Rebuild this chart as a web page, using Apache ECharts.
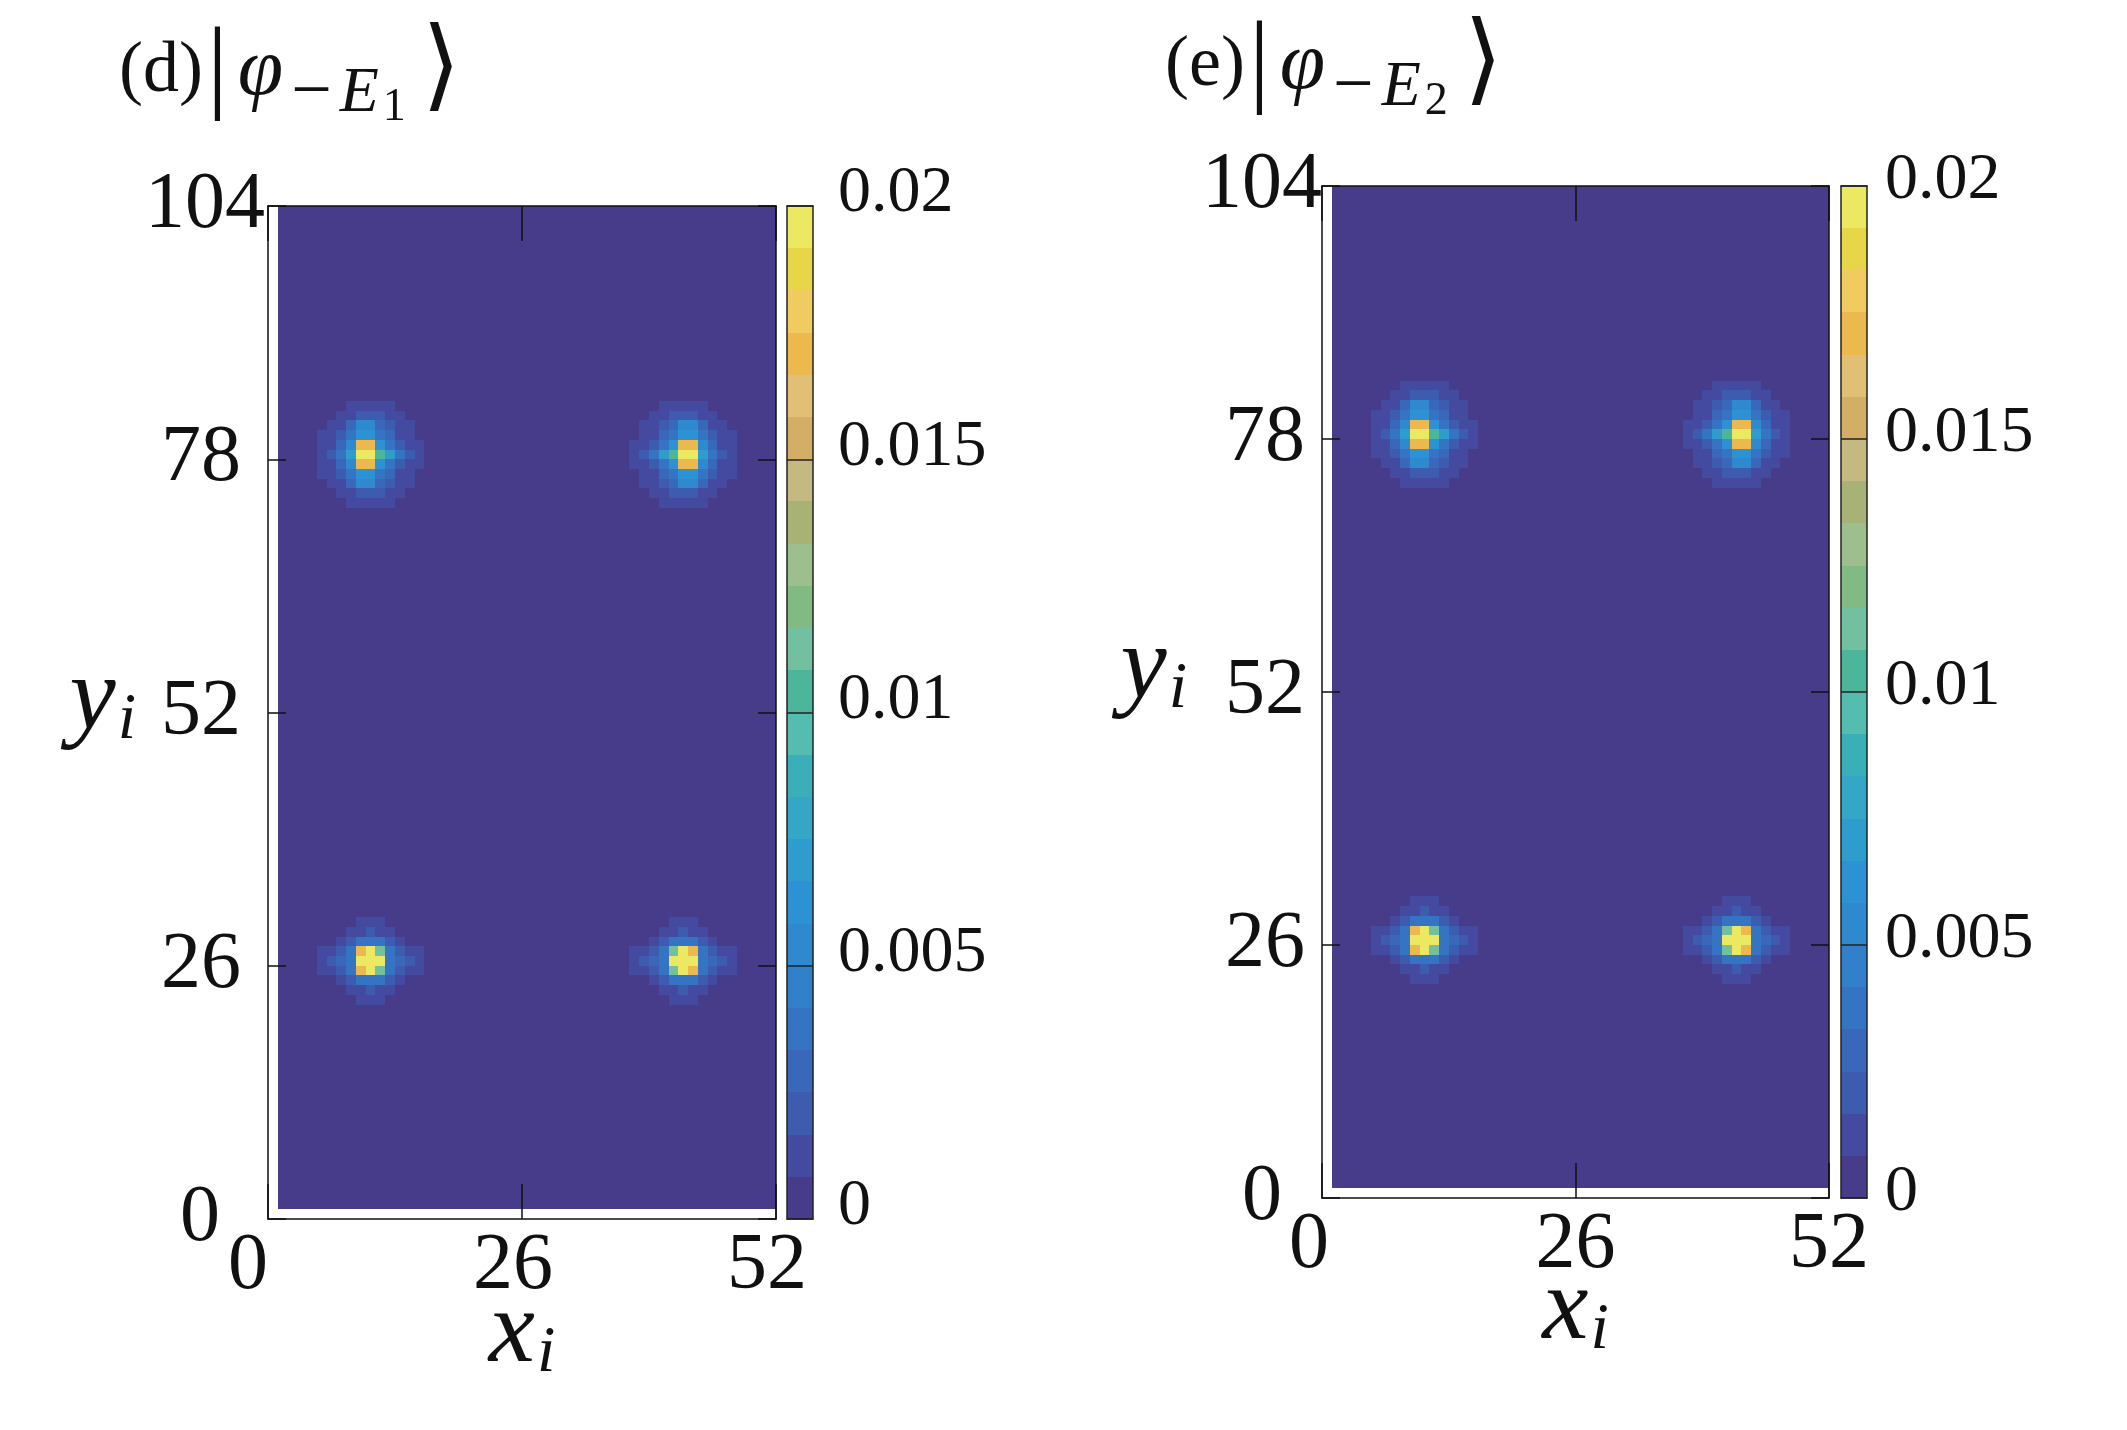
<!DOCTYPE html>
<html><head><meta charset="utf-8">
<script src="https://cdn.jsdelivr.net/npm/echarts@6/dist/echarts.min.js"></script>
<style>html,body{margin:0;padding:0;background:#fff}#c{width:2127px;height:1430px}</style>
</head><body><div id="c"></div>
<script>
// ---------------- data (values in units of 1e-3) ----------------
// grid cells: x = 1..51 (cell spans [x,x+1]), y = 1..103
const cellRangeX = [1, 51];
const cellRangeY = [1, 103];
const cbTickLabels = ['0', '0.005', '0.01', '0.015', '0.02'];

// colour bands of the colour bar (edges, 1e-3) and their colours
const bandEdges = [0, 0.833, 1.667, 2.5, 3.333, 4.167, 5, 5.833, 6.667, 7.5, 8.333, 9.167,
  10, 10.833, 11.667, 12.5, 13.333, 14.167, 15, 15.833, 16.667, 17.5, 18.333, 19.167, 20];
const palette = ['#463C89', '#444AA0', '#3D5CB0', '#3968BA', '#3574C3', '#3280CA', '#2F89CF', '#2D92D3',
  '#2E9DCE', '#34A7C6', '#3AAFB8', '#55BCB0', '#4DB599', '#72C09F', '#82BA84', '#9DBF8D',
  '#A9B275', '#C5B982', '#D3AE66', '#E1C076', '#EBB94D', '#F0CC60', '#E8D649', '#EBE962'];

// upper spots: rows y = 83..73, columns x = 4..16 (left) / 36..48 (right)
const spotUpperLeft = [
  [0, 0, 0, 0, 0.9, 1.1, 1.2, 1.1, 0.9, 0, 0, 0, 0],
  [0, 0, 0, 0.9, 1.5, 2.1, 2.1, 1.8, 1.2, 0.9, 0, 0, 0],
  [0, 0, 0.9, 1.5, 2.6, 5.2, 5.2, 3.3, 2.2, 1.2, 0.9, 0, 0],
  [0, 0.9, 1.2, 2.3, 3.8, 6.2, 6.2, 3.9, 2.7, 1.6, 1.0, 0, 0],
  [0, 0.9, 1.6, 3.0, 5.5, 17.0, 17.0, 5.9, 3.9, 2.2, 1.2, 0.9, 0],
  [0, 1.0, 2.0, 3.8, 7.1, 19.6, 19.6, 10.4, 7.4, 4.0, 2.2, 1.2, 0],
  [0, 0.9, 1.6, 3.0, 5.5, 17.0, 17.0, 5.9, 3.9, 2.2, 1.2, 0.9, 0],
  [0, 0.9, 1.2, 2.3, 3.8, 6.2, 6.2, 3.9, 2.7, 1.6, 1.0, 0, 0],
  [0, 0, 0.9, 1.5, 2.6, 5.2, 5.2, 3.3, 2.2, 1.2, 0.9, 0, 0],
  [0, 0, 0, 0.9, 1.5, 2.1, 2.1, 1.8, 1.2, 0.9, 0, 0, 0],
  [0, 0, 0, 0, 0.9, 1.1, 1.2, 1.1, 0.9, 0, 0, 0, 0]
];
const spotUpperRight = [
  [0, 0, 0, 0, 0.9, 1.1, 1.2, 1.1, 0.9, 0, 0, 0, 0],
  [0, 0, 0, 0.9, 1.2, 1.8, 2.1, 2.1, 1.5, 0.9, 0, 0, 0],
  [0, 0, 0.9, 1.2, 2.2, 3.3, 5.2, 5.2, 2.6, 1.5, 0.9, 0, 0],
  [0, 0, 1.0, 1.6, 2.7, 3.9, 6.2, 6.2, 3.8, 2.3, 1.2, 0.9, 0],
  [0, 0.9, 1.2, 2.2, 3.9, 5.9, 17.0, 17.0, 5.5, 3.0, 1.6, 0.9, 0],
  [0, 1.2, 2.2, 4.0, 7.4, 10.4, 19.6, 19.6, 7.1, 3.8, 2.0, 1.0, 0],
  [0, 0.9, 1.2, 2.2, 3.9, 5.9, 17.0, 17.0, 5.5, 3.0, 1.6, 0.9, 0],
  [0, 0, 1.0, 1.6, 2.7, 3.9, 6.2, 6.2, 3.8, 2.3, 1.2, 0.9, 0],
  [0, 0, 0.9, 1.2, 2.2, 3.3, 5.2, 5.2, 2.6, 1.5, 0.9, 0, 0],
  [0, 0, 0, 0.9, 1.2, 1.8, 2.1, 2.1, 1.5, 0.9, 0, 0, 0],
  [0, 0, 0, 0, 0.9, 1.1, 1.2, 1.1, 0.9, 0, 0, 0, 0]
];
// lower spots: rows y = 30..22
const spotLowerLeft = [
  [0, 0, 0, 0, 0, 0.9, 0.9, 0.9, 0, 0, 0, 0, 0],
  [0, 0, 0, 0, 0.9, 1.6, 1.8, 1.5, 0.9, 0, 0, 0, 0],
  [0, 0, 0, 0.9, 1.8, 3.6, 3.9, 3.4, 1.7, 0.9, 0, 0, 0],
  [0, 0.9, 1.2, 2.2, 3.6, 17.0, 19.6, 11.2, 3.8, 2.2, 1.3, 0.9, 0],
  [0, 1.1, 1.7, 2.5, 3.9, 19.6, 19.6, 19.6, 3.9, 2.6, 1.7, 1.1, 0],
  [0, 0.9, 1.2, 2.2, 3.6, 17.0, 19.6, 11.2, 3.8, 2.2, 1.3, 0.9, 0],
  [0, 0, 0, 0.9, 1.8, 3.6, 3.9, 3.4, 1.7, 0.9, 0, 0, 0],
  [0, 0, 0, 0, 0.9, 1.6, 1.8, 1.5, 0.9, 0, 0, 0, 0],
  [0, 0, 0, 0, 0, 0.9, 0.9, 0.9, 0, 0, 0, 0, 0]
];
const spotLowerRight = [
  [0, 0, 0, 0, 0, 0.9, 0.9, 0.9, 0, 0, 0, 0, 0],
  [0, 0, 0, 0, 0.9, 1.5, 1.8, 1.6, 0.9, 0, 0, 0, 0],
  [0, 0, 0, 0.9, 1.7, 3.4, 3.9, 3.6, 1.8, 0.9, 0, 0, 0],
  [0, 0.9, 1.3, 2.2, 3.8, 11.2, 19.6, 17.0, 3.6, 2.2, 1.2, 0.9, 0],
  [0, 1.1, 1.7, 2.6, 3.9, 19.6, 19.6, 19.6, 3.9, 2.5, 1.7, 1.1, 0],
  [0, 0.9, 1.3, 2.2, 3.8, 11.2, 19.6, 17.0, 3.6, 2.2, 1.2, 0.9, 0],
  [0, 0, 0, 0.9, 1.7, 3.4, 3.9, 3.6, 1.8, 0.9, 0, 0, 0],
  [0, 0, 0, 0, 0.9, 1.5, 1.8, 1.6, 0.9, 0, 0, 0, 0],
  [0, 0, 0, 0, 0, 0.9, 0.9, 0.9, 0, 0, 0, 0, 0]
];
// where each spot sits: [first column x, top row y, cells]
const spotsD = [[4, 83, spotUpperLeft], [36, 83, spotUpperRight], [4, 30, spotLowerLeft], [36, 30, spotLowerRight]];
const spotsE = [[4, 83, spotUpperLeft], [36, 83, spotUpperRight], [4, 30, spotLowerLeft], [36, 30, spotLowerRight]];

// ---------------- build series data ----------------
function buildCells(spots) {
  const m = {};
  spots.forEach(([x0, yTop, rows]) => rows.forEach((row, i) => row.forEach((v, j) => {
    m[(x0 + j) + ',' + (yTop - i)] = v;
  })));
  const out = [];
  for (let x = cellRangeX[0]; x <= cellRangeX[1]; x++)
    for (let y = cellRangeY[0]; y <= cellRangeY[1]; y++)
      out.push([x, y, (m[x + ',' + y] || 0) / 1000]);
  return out;
}
const cellsD = buildCells(spotsD);
const cellsE = buildCells(spotsE);
const cbData = bandEdges.slice(0, -1).map((lo, i) => [0, lo / 1000, lo / 1000, bandEdges[i + 1] / 1000]);

// ---------------- styling ----------------
const FONT = "'Liberation Serif','DejaVu Serif',serif";
const INK = '#111';
const chart = echarts.init(document.getElementById('c'), null, {renderer: 'canvas'});

function cellItem(params, api) {
  const x = api.value(0), y = api.value(1);
  const p0 = api.coord([x, y + 1]);
  const p1 = api.coord([x + 1, y]);
  const x0 = Math.round(p0[0]), y0 = Math.round(p0[1]);
  return {type: 'rect', shape: {x: x0, y: y0, width: Math.round(p1[0]) - x0, height: Math.round(p1[1]) - y0},
    style: {fill: api.visual('color')}};
}
function bandItem(params, api) {
  const p0 = api.coord([0, api.value(3)]);
  const p1 = api.coord([1, api.value(1)]);
  const x0 = Math.round(p0[0]), y0 = Math.round(p0[1]);
  return {type: 'rect', shape: {x: x0, y: y0, width: Math.round(p1[0]) - x0, height: Math.round(p1[1]) - y0},
    style: {fill: api.visual('color')}};
}

function tickRich(pads, size) {
  const r = {};
  Object.keys(pads).forEach(k => { r['l' + k] = {fontFamily: FONT, fontSize: size, fontWeight: 'normal', color: INK, padding: pads[k]}; });
  return r;
}
const lineSt = {color: INK, width: 1.5};

function heatAxes(g, xPads, yPads, xMargin, yMargin, xNameGap, yNameGap, yNamePadB) {
  const xs = [
    {gridIndex: g, type: 'value', min: 0, max: 52, interval: 26, position: 'bottom', z: 10,
      axisLine: {onZero: false, lineStyle: lineSt},
      axisTick: {inside: true, length: 35, lineStyle: lineSt},
      splitLine: {show: false},
      axisLabel: {margin: xMargin, formatter: v => '{l' + v + '|' + v + '}', rich: tickRich(xPads, 80)},
      name: '{v|x}{s|i}', nameLocation: 'middle', nameGap: xNameGap, nameMoveOverlap: false,
      nameTextStyle: {rich: {
        v: {fontFamily: FONT, fontStyle: 'italic', fontSize: 104, color: INK},
        s: {fontFamily: FONT, fontStyle: 'italic', fontSize: 66, color: INK, padding: [40, 0, 0, 2]}}}},
    {gridIndex: g, type: 'value', min: 0, max: 52, interval: 26, position: 'top', z: 10,
      axisLine: {onZero: false, lineStyle: lineSt},
      axisTick: {inside: true, length: 35, lineStyle: lineSt},
      splitLine: {show: false}, axisLabel: {show: false}}
  ];
  const ys = [
    {gridIndex: g, type: 'value', min: 0, max: 104, interval: 26, position: 'left', z: 10,
      axisLine: {onZero: false, lineStyle: lineSt},
      axisTick: {inside: true, length: 18, lineStyle: lineSt},
      splitLine: {show: false},
      axisLabel: {margin: yMargin, formatter: v => '{l' + v + '|' + v + '}', rich: tickRich(yPads, 80)},
      name: '{v|y}{s|i}', nameLocation: 'middle', nameRotate: 0, nameGap: yNameGap, nameMoveOverlap: false,
      nameTextStyle: {rich: {
        v: {fontFamily: FONT, fontStyle: 'italic', fontSize: 104, color: INK, padding: [0, 0, yNamePadB, 0]},
        s: {fontFamily: FONT, fontStyle: 'italic', fontSize: 66, color: INK, padding: [40, 0, yNamePadB, 2]}}}},
    {gridIndex: g, type: 'value', min: 0, max: 104, interval: 26, position: 'right', z: 10,
      axisLine: {onZero: false, lineStyle: lineSt},
      axisTick: {inside: true, length: 18, lineStyle: lineSt},
      splitLine: {show: false}, axisLabel: {show: false}}
  ];
  return {xs, ys};
}
const cbLine = {color: '#222', width: 1.5};
function cbAxes(g, labelMargin, padBottom) {
  const xs = [
    {gridIndex: g, type: 'value', min: 0, max: 1, position: 'bottom', z: 10,
      axisLine: {onZero: false, lineStyle: cbLine}, axisTick: {show: false}, axisLabel: {show: false}, splitLine: {show: false}},
    {gridIndex: g, type: 'value', min: 0, max: 1, position: 'top', z: 10,
      axisLine: {onZero: false, lineStyle: cbLine}, axisTick: {show: false}, axisLabel: {show: false}, splitLine: {show: false}}
  ];
  const ys = [
    {gridIndex: g, type: 'value', min: 0, max: 0.02, interval: 0.005, position: 'left', z: 10,
      axisLine: {onZero: false, lineStyle: cbLine}, axisTick: {show: false}, axisLabel: {show: false}, splitLine: {show: false}},
    {gridIndex: g, type: 'value', min: 0, max: 0.02, interval: 0.005, position: 'right', z: 10,
      axisLine: {onZero: false, lineStyle: cbLine},
      axisTick: {inside: true, length: 26, lineStyle: {color: '#222', width: 1.5}},
      splitLine: {show: false},
      axisLabel: {margin: labelMargin, formatter: (v, i) => '{c|' + cbTickLabels[i] + '}',
        rich: {c: {fontFamily: FONT, fontSize: 66, color: INK, padding: [0, 0, padBottom, 0]}}}}
  ];
  return {xs, ys};
}

const dAx = heatAxes(0, {'0': [0, 40, 0, 0], '26': [0, 18, 0, 0], '52': [0, 18, 0, 0]},
  {'0': [0, 45, 0, 0], '26': [0, 24, 0, 0], '52': [0, 24, 0, 0], '78': [0, 24, 0, 0], '104': [0, 0, 0, 0]},
  8, 3, 62, 132, 24);
const dCb = cbAxes(1, 25, 24);
const eAx = heatAxes(2, {'0': [0, 26, 0, 0], '26': [0, 0, 0, 0], '52': [0, 0, 0, 0]},
  {'0': [0, 40, 0, 0], '26': [0, 17, 0, 0], '52': [0, 17, 0, 0], '78': [0, 17, 0, 0], '104': [0, 0, 0, 0]},
  8, 0, 60, 135, 44);
const eCb = cbAxes(3, 18, 10);

function titleRich() {
  const base = {color: INK, fontWeight: 'normal'};
  return {
    n: Object.assign({fontFamily: FONT, fontSize: 72, lineHeight: 110}, base),
    b: Object.assign({fontFamily: FONT, fontSize: 104, lineHeight: 110, padding: [0, 2, 0, 4]}, base),
    k: Object.assign({fontFamily: "'DejaVu Sans','DejaVu Serif',serif", fontSize: 100, lineHeight: 110, padding: [0, 0, 0, 16]}, base),
    p: Object.assign({fontFamily: FONT, fontStyle: 'italic', fontSize: 82, lineHeight: 110, padding: [0, 8, 0, 8]}, base),
    m: Object.assign({fontFamily: FONT, fontSize: 72, padding: [44, 4, 0, 0]}, base),
    e: Object.assign({fontFamily: FONT, fontStyle: 'italic', fontSize: 64, padding: [44, 0, 0, 4]}, base),
    s: Object.assign({fontFamily: FONT, fontSize: 46, padding: [72, 0, 0, 4]}, base)
  };
}

const option = {
  backgroundColor: '#fff',
  animation: false,
  title: [
    {left: 114, top: 8, text: '{n|(d)}{b||}{p|φ}{m|−}{e|E}{s|1}{k|⟩}', textStyle: {fontWeight: 'normal', rich: titleRich()}},
    {left: 1160, top: 2, text: '{n|(e)}{b||}{p|φ}{m|−}{e|E}{s|2}{k|⟩}', textStyle: {fontWeight: 'normal', rich: titleRich()}}
  ],
  grid: [
    {left: 268, top: 206, width: 508, height: 1013},
    {left: 787, top: 206, width: 26, height: 1013},
    {left: 1322, top: 186, width: 507, height: 1012},
    {left: 1841, top: 186, width: 26, height: 1012}
  ],
  xAxis: [...dAx.xs, ...dCb.xs, ...eAx.xs, ...eCb.xs],
  yAxis: [...dAx.ys, ...dCb.ys, ...eAx.ys, ...eCb.ys],
  visualMap: {
    type: 'piecewise', show: false, dimension: 2, seriesIndex: [0, 1, 2, 3],
    pieces: palette.map((c, i) => (i < palette.length - 1
      ? {gte: bandEdges[i] / 1000, lt: bandEdges[i + 1] / 1000, color: c}
      : {gte: bandEdges[i] / 1000, lte: 1, color: c}))
  },
  series: [
    {type: 'custom', name: 'd', coordinateSystem: 'cartesian2d', xAxisIndex: 0, yAxisIndex: 0,
      renderItem: cellItem, data: cellsD, silent: true, clip: false, progressive: 0},
    {type: 'custom', name: 'd colorbar', coordinateSystem: 'cartesian2d', xAxisIndex: 2, yAxisIndex: 3,
      renderItem: bandItem, data: cbData, silent: true, clip: false, progressive: 0},
    {type: 'custom', name: 'e', coordinateSystem: 'cartesian2d', xAxisIndex: 4, yAxisIndex: 4,
      renderItem: cellItem, data: cellsE, silent: true, clip: false, progressive: 0},
    {type: 'custom', name: 'e colorbar', coordinateSystem: 'cartesian2d', xAxisIndex: 6, yAxisIndex: 7,
      renderItem: bandItem, data: cbData, silent: true, clip: false, progressive: 0}
  ]
};
chart.setOption(option);
</script></body></html>
